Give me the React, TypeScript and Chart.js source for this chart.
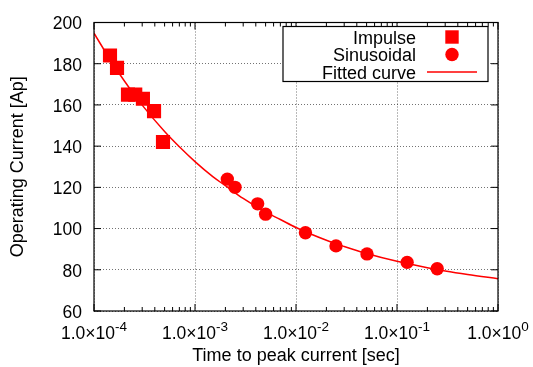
import React, { useEffect, useRef } from "react";
import { Chart, registerables } from "chart.js";

Chart.register(...registerables);

// ---- data ----
const impulseTime = [1.44e-4, 1.69e-4, 2.17e-4, 2.56e-4, 3.05e-4, 3.93e-4, 4.82e-4];
const impulseCurrent = [184, 178, 165, 165, 163, 157, 142];

const sineTime = [2.09e-3, 2.49e-3, 4.17e-3, 5.0e-3, 1.24e-2, 2.49e-2, 5.05e-2, 1.26e-1, 2.5e-1];
const sineCurrent = [124, 120, 112, 107, 98, 91.6, 87.7, 83.6, 80.5];

const fitTime = [1e-4, 1.5e-4, 2e-4, 3e-4, 5e-4, 7e-4, 1e-3, 1.5e-3, 2e-3, 3e-3, 5e-3, 7e-3, 1e-2, 2e-2, 3e-2, 5e-2, 1e-1, 2e-1, 3e-1, 5e-1, 1];
const fitCurrent = [194.8, 180.7, 171.6, 159.9, 147.1, 139.7, 132.5, 125.2, 120.8, 114.6, 108, 104.4, 100.5, 94.3, 91.3, 87.9, 84.1, 81, 79.4, 77.7, 75.7];

const xTickValues = [1e-4, 1e-3, 1e-2, 1e-1, 1];
const xTickMantissa = "1.0\u00d710";
const xTickExponents = ["-4", "-3", "-2", "-1", "0"];
const yMin = 60;
const yMax = 200;
const yStep = 20;

const seriesNames = ["Impulse", "Sinusoidal", "Fitted curve"];
const xTitle = "Time to peak current [sec]";
const yTitle = "Operating Current [Ap]";

const FONT = "'Liberation Sans', Arial, Helvetica, sans-serif";
const RED = "#ff0000";

const gnuplotPlugin = {
  id: "gnuplotDecor",
  afterDatasetsDraw(chart: any) {
    const { ctx, chartArea: a, scales } = chart;
    const xs = scales.x;
    const ys = scales.y;
    ctx.save();
    ctx.strokeStyle = "#000";
    ctx.lineWidth = 1;
    ctx.beginPath();
    // major x ticks
    xTickValues.forEach((v) => {
      const px = xs.getPixelForValue(v);
      ctx.moveTo(px, a.bottom);
      ctx.lineTo(px, a.bottom - 7);
      ctx.moveTo(px, a.top);
      ctx.lineTo(px, a.top + 7);
    });
    // minor x ticks
    for (let d = 0; d < xTickValues.length - 1; d++) {
      for (let m = 2; m <= 9; m++) {
        const px = xs.getPixelForValue(xTickValues[d] * m);
        ctx.moveTo(px, a.bottom);
        ctx.lineTo(px, a.bottom - 4);
        ctx.moveTo(px, a.top);
        ctx.lineTo(px, a.top + 4);
      }
    }
    // y ticks
    ys.ticks.forEach((t: any) => {
      const py = ys.getPixelForValue(t.value);
      ctx.moveTo(a.left, py);
      ctx.lineTo(a.left + 7, py);
      ctx.moveTo(a.right, py);
      ctx.lineTo(a.right - 7, py);
    });
    ctx.stroke();
    ctx.lineWidth = 1.2;
    ctx.strokeRect(a.left, a.top, a.right - a.left, a.bottom - a.top);
    ctx.restore();
  },
  afterDraw(chart: any) {
    const { ctx, chartArea: a, scales } = chart;
    const xs = scales.x;
    ctx.save();
    ctx.fillStyle = "#000";
    ctx.textBaseline = "alphabetic";
    ctx.textAlign = "left";
    // x tick labels with superscript exponents
    xTickValues.forEach((v, i) => {
      const px = xs.getPixelForValue(v);
      ctx.font = `17.5px ${FONT}`;
      const wb = ctx.measureText(xTickMantissa).width;
      ctx.font = `13.5px ${FONT}`;
      const ws = ctx.measureText(xTickExponents[i]).width;
      const start = px - (wb + ws) / 2;
      ctx.font = `17.5px ${FONT}`;
      ctx.fillText(xTickMantissa, start, a.bottom + 28);
      ctx.font = `13.5px ${FONT}`;
      ctx.fillText(xTickExponents[i], start + wb, a.bottom + 20);
    });

    // legend (gnuplot style: text right-aligned, symbol on the right)
    const boxRight = a.right - 10;
    const boxTop = a.top + 4;
    const boxW = 205;
    const boxH = 55;
    ctx.fillStyle = "#fff";
    ctx.fillRect(boxRight - boxW, boxTop, boxW, boxH);
    ctx.strokeStyle = "#000";
    ctx.lineWidth = 1.2;
    ctx.strokeRect(boxRight - boxW, boxTop, boxW, boxH);
    ctx.font = `18px ${FONT}`;
    ctx.textAlign = "right";
    const baselines = [boxTop + 17, boxTop + 34.5, boxTop + 52];
    seriesNames.forEach((name, i) => {
      ctx.fillStyle = "#000";
      ctx.fillText(name, boxRight - 72, baselines[i]);
      const cy = baselines[i] - 6.5;
      const cx = boxRight - 36;
      ctx.fillStyle = RED;
      ctx.strokeStyle = RED;
      if (i === 0) {
        ctx.fillRect(cx - 6.7, cy - 6.7, 13.4, 13.4);
      } else if (i === 1) {
        ctx.beginPath();
        ctx.arc(cx, cy, 6.7, 0, Math.PI * 2);
        ctx.fill();
      } else {
        ctx.lineWidth = 1.5;
        ctx.beginPath();
        ctx.moveTo(boxRight - 61, cy);
        ctx.lineTo(boxRight - 11, cy);
        ctx.stroke();
      }
    });
    ctx.restore();
  },
};

export default function App() {
  const canvasRef = useRef<HTMLCanvasElement | null>(null);

  useEffect(() => {
    const canvas = canvasRef.current;
    if (!canvas) return;
    const chart = new Chart(canvas, {
      type: "scatter",
      data: {
        datasets: [
          {
            label: seriesNames[0],
            data: impulseTime.map((t, i) => ({ x: t, y: impulseCurrent[i] })),
            pointStyle: "rect",
            pointRadius: 10,
            pointBorderWidth: 0,
            backgroundColor: RED,
            borderColor: RED,
            showLine: false,
            order: 1,
          },
          {
            label: seriesNames[1],
            data: sineTime.map((t, i) => ({ x: t, y: sineCurrent[i] })),
            pointStyle: "circle",
            pointRadius: 6.7,
            pointBorderWidth: 0,
            backgroundColor: RED,
            borderColor: RED,
            showLine: false,
            order: 2,
          },
          {
            label: seriesNames[2],
            data: fitTime.map((t, i) => ({ x: t, y: fitCurrent[i] })),
            showLine: true,
            pointRadius: 0,
            borderColor: RED,
            borderWidth: 1.5,
            cubicInterpolationMode: "monotone",
            fill: false,
            order: 0,
          } as any,
        ],
      },
      options: {
        animation: false,
        responsive: false,
        events: [],
        layout: { padding: { top: 19, right: 35, left: 0, bottom: 0 } },
        plugins: {
          legend: { display: false },
          tooltip: { enabled: false },
        },
        scales: {
          x: {
            type: "logarithmic",
            min: 1e-4,
            max: 1,
            afterBuildTicks: (scale: any) => {
              scale.ticks = xTickValues.map((v) => ({ value: v }));
            },
            afterFit: (scale: any) => {
              scale.height = 56;
            },
            ticks: { display: false },
            grid: {
              display: true,
              drawTicks: false,
              color: "rgba(0,0,0,0.55)",
              lineWidth: 1,
            },
            border: { display: false, dash: [1, 2] },
            title: {
              display: true,
              text: xTitle,
              color: "#000",
              font: { family: FONT, size: 18 },
              padding: { top: 0, bottom: 0 },
            },
          },
          y: {
            type: "linear",
            min: yMin,
            max: yMax,
            afterFit: (scale: any) => {
              scale.width = 94;
            },
            ticks: {
              stepSize: yStep,
              padding: 12,
              labelOffset: 2,
              color: "#000",
              font: { family: FONT, size: 17.5 },
            },
            grid: {
              display: true,
              drawTicks: false,
              color: "rgba(0,0,0,0.55)",
              lineWidth: 1,
            },
            border: { display: false, dash: [1, 2] },
            title: {
              display: true,
              text: yTitle,
              color: "#000",
              font: { family: FONT, size: 18 },
              padding: { top: 7.2, bottom: 0 },
            },
          },
        },
      },
      plugins: [gnuplotPlugin],
    } as any);
    return () => chart.destroy();
  }, []);

  return (
    <div style={{ position: "fixed", left: 0, top: 0, width: 533, height: 367, background: "#fff" }}>
      <canvas ref={canvasRef} width={533} height={367} style={{ display: "block", width: 533, height: 367 }} />
    </div>
  );
}
